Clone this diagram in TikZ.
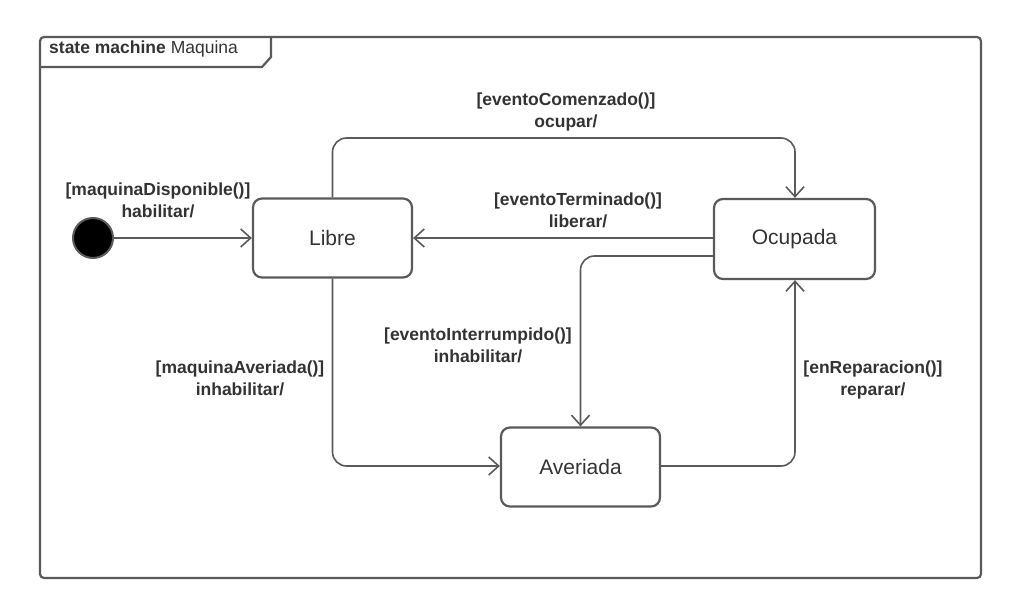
\documentclass[tikz,border=0pt]{standalone}
\usepackage{fontspec}
\setmainfont{Liberation Sans}
\usetikzlibrary{arrows.meta}
\definecolor{ln}{HTML}{5A5A5A}
\definecolor{tx}{HTML}{333333}
\tikzset{
  statebox/.style={draw=ln, line width=2.2pt, rounded corners=9pt, minimum width=159pt, minimum height=79pt, fill=white, text=tx, font=\fontsize{21}{24}\selectfont},
  conn/.style={draw=ln, line width=1.6pt, rounded corners=14pt, -{Straight Barb[length=10pt,width=18pt,line width=1.6pt]}},
  lbl/.style={text=tx, font=\fontsize{17.5}{22}\selectfont\bfseries, align=center, inner sep=0pt},
}
\begin{document}
\begin{tikzpicture}[x=1pt,y=-1pt]
\useasboundingbox (0,0) rectangle (1021,615);
% frame
\draw[ln, line width=2.2pt, rounded corners=4pt] (40,37) rectangle (981,578);
\draw[ln, line width=2.2pt] (40,67) -- (262,67) -- (271,57) -- (271,37);
\node[anchor=west, text=tx, font=\fontsize{17.5}{20}\selectfont, inner sep=0pt] (title) at (49,49) {\textbf{state machine} Maquina};
% states
\node[circle, fill=black, draw=ln, line width=2pt, minimum size=40pt, inner sep=0pt] (init) at (93,238) {};
\node[statebox] (libre) at (332.5,238) {Libre};
\node[statebox, minimum width=161pt, minimum height=80pt] (ocup) at (794.5,239) {Ocupada};
\node[statebox] (aver) at (580.5,467) {Averiada};
% connectors
\draw[conn] (init) -- (libre);
\draw[conn] (libre.north) -- (332.5,138) -- (795,138) -- (ocup.north -| 795,0);
\draw[conn] (ocup.west |- 0,238) -- (libre.east |- 0,238);
\draw[conn] (ocup.west |- 0,256) -- (580.5,256) -- (aver.north);
\draw[conn] (libre.south) -- (332.5,466) -- (aver.west |- 0,466);
\draw[conn] (aver.east |- 0,466) -- (795,466) -- (ocup.south -| 795,0);
% labels
\node[lbl] (l1) at (158,200) {[maquinaDisponible()]\\habilitar/};
\node[lbl] (l2) at (566,112) {[eventoComenzado()]\\ocupar/};
\node[lbl] (l3) at (578,210) {[eventoTerminado()]\\liberar/};
\node[lbl] (l4) at (478,345) {[eventoInterrumpido()]\\inhabilitar/};
\node[lbl] (l5) at (240,378) {[maquinaAveriada()]\\inhabilitar/};
\node[lbl] (l6) at (873,380) {[enReparacion()]\\reparar/};
\end{tikzpicture}
\end{document}
